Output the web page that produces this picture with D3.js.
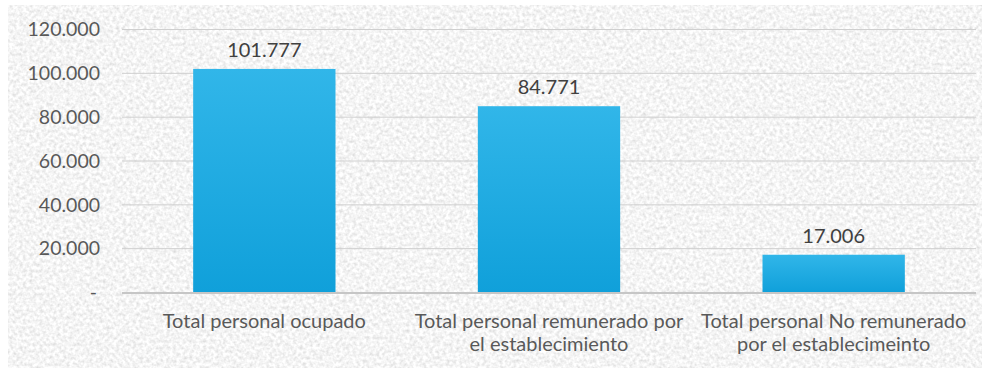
<!DOCTYPE html>
<html><head><meta charset="utf-8">
<script src="https://cdn.jsdelivr.net/npm/d3@7"></script>
<style>html,body{margin:0;padding:0;background:#fff;}svg{display:block;font-family:Lato,"Open Sans",sans-serif;}</style>
</head><body>
<svg id="c" width="986" height="368"></svg>
<script>
const categories = [
  ["Total personal ocupado"],
  ["Total personal remunerado por", "el establecimiento"],
  ["Total personal No remunerado", "por el establecimeinto"]
];
const values = [101777, 84771, 17006];
const yTicks = [0, 20000, 40000, 60000, 80000, 100000, 120000];

const loc = d3.formatLocale({decimal: ",", thousands: ".", grouping: [3], currency: ["", ""]});
const fmt = v => v === 0 ? "-" : loc.format(",.0f")(v);

const svg = d3.select("#c");
const m = {left: 122, right: 976, top: 29, bottom: 292};

const defs = svg.append("defs");
const f = defs.append("filter").attr("id", "tex").attr("x", 0).attr("y", 0).attr("width", 1).attr("height", 1);
f.append("feTurbulence").attr("type", "fractalNoise").attr("baseFrequency", "0.3").attr("numOctaves", 2).attr("seed", 7).attr("result", "n");
f.append("feColorMatrix").attr("in", "n").attr("type", "matrix")
  .attr("values", "0.5 0 0 0 0.66  0.5 0 0 0 0.66  0.5 0 0 0 0.66  0 0 0 0 1");
const g = defs.append("linearGradient").attr("id", "bar").attr("x1", 0).attr("y1", 0).attr("x2", 0).attr("y2", 1);
g.append("stop").attr("offset", "0%").attr("stop-color", "#31b6e9");
g.append("stop").attr("offset", "100%").attr("stop-color", "#10a0da");

svg.append("rect").attr("x", 8).attr("y", 5).attr("width", 974).attr("height", 363)
  .attr("fill", "#e8e8e8").attr("filter", "url(#tex)");

const x = d3.scaleBand().domain(d3.range(values.length)).range([m.left, m.right]).paddingInner(0.5).paddingOuter(0.25);
const y = d3.scaleLinear().domain([0, 120000]).range([m.bottom, m.top]);

// gridlines
svg.append("g").selectAll("line").data(yTicks.filter(d => d > 0)).join("line")
  .attr("x1", m.left).attr("x2", m.right)
  .attr("y1", d => y(d) + 0.5).attr("y2", d => y(d) + 0.5)
  .attr("stroke", "#cfcfcf").attr("stroke-width", 1);

// y axis labels
const yAxis = d3.axisLeft(y).tickValues(yTicks).tickFormat(fmt).tickSize(0).tickPadding(0);
const ya = svg.append("g").attr("transform", `translate(${m.left - 22},0)`).call(yAxis);
ya.select(".domain").remove();
ya.selectAll("text").attr("font-size", 19.5).attr("fill", "#595959").attr("font-family", "Lato").attr("dy", "0.35em");
ya.selectAll(".tick").filter(d => d === 0).select("text").attr("dx", -3);

// bars
svg.append("g").selectAll("rect").data(values).join("rect")
  .attr("x", (d, i) => x(i)).attr("width", x.bandwidth())
  .attr("y", d => y(d)).attr("height", d => y(0) - y(d))
  .attr("fill", "url(#bar)");

// baseline
svg.append("line").attr("x1", m.left).attr("x2", m.right).attr("y1", y(0) + 1).attr("y2", y(0) + 1)
  .attr("stroke", "#c6c6c6").attr("stroke-width", 2);

// value labels
svg.append("g").selectAll("text").data(values).join("text")
  .attr("x", (d, i) => x(i) + x.bandwidth() / 2).attr("y", d => y(d) - 12)
  .attr("text-anchor", "middle").attr("font-size", 20).attr("fill", "#404040")
  .text(d => fmt(d));

// category labels
const cl = svg.append("g").selectAll("text").data(categories).join("text")
  .attr("x", (d, i) => x(i) + x.bandwidth() / 2).attr("y", 328)
  .attr("text-anchor", "middle").attr("font-size", 20).attr("fill", "#595959");
cl.selectAll("tspan").data(d => d).join("tspan")
  .attr("x", function () { return this.parentNode.getAttribute("x"); })
  .attr("dy", (d, i) => i === 0 ? 0 : 23).text(d => d);
</script>
</body></html>
